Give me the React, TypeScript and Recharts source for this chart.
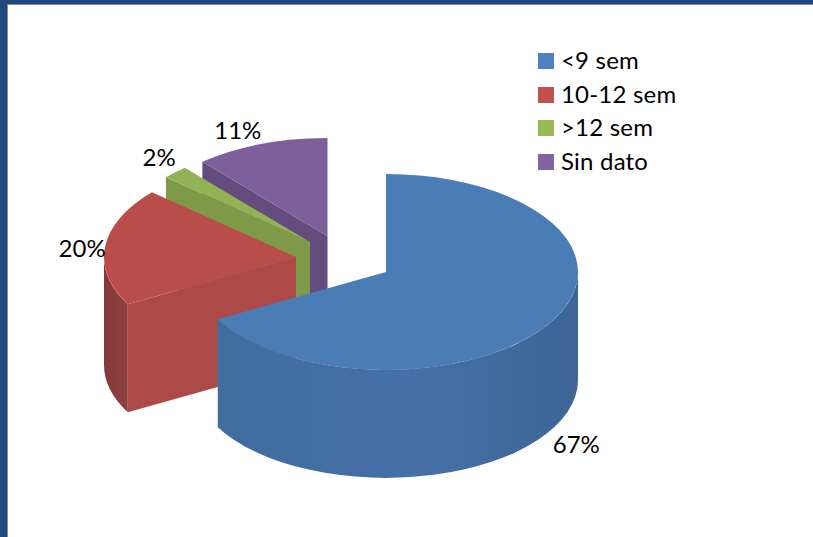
import { PieChart, Pie, Legend } from 'recharts';

const categories = ['<9 sem', '10-12 sem', '>12 sem', 'Sin dato'];
const values = [67, 19.5, 2.2, 11.3];

// colores: leyenda, cara superior, pared curva (izq/centro/der), pared del corte
const legendColors = ['#4F81BD', '#C0504D', '#9BBB59', '#8064A2'];
const topColors = ['#4A7CB6', '#B84D4A', '#93B155', '#7C5F9B'];
const wallColors = [
  ['#416C9E', '#4670A6', '#3E6596'],
  ['#843735', '#8B3F3C', '#8B3F3C'],
  ['#7E9947', '#7E9947', '#7E9947'],
  ['#644C7F', '#644C7F', '#644C7F'],
];
const cutColors = ['#446FA3', '#AC4A47', '#7E9947', '#644C7F'];

// desplazamiento de cada porcion y ajuste de su etiqueta
const explode = [[0, 0], [-90, -15], [-76, -30], [-58.5, -36]];
const labelNudge = [[25, 122], [-23, 1], [-16, -16], [-23, -15]];

const WIDTH = 813;
const HEIGHT = 537;
const CX = 386;
const CY = 272;
const RADIUS = 192;
const TILT = 0.51;
const DEPTH = 108;
const FONT = 'Lato, sans-serif';
const rad = Math.PI / 180;

// la tabla va al reves para dibujar de atras hacia adelante (azul al final)
const tableData = categories
  .map((name, i) => ({ name, value: values[i], index: i, fill: topColors[i] }))
  .reverse();

// a: grados en sentido horario desde las 12
function point(a: number, ox: number, oy: number, dy = 0) {
  return {
    x: CX + ox + RADIUS * Math.sin(a * rad),
    y: CY + oy + dy - RADIUS * TILT * Math.cos(a * rad),
  };
}

function arc(a0: number, a1: number, ox: number, oy: number, dy = 0, reverse = false) {
  const p = point(reverse ? a0 : a1, ox, oy, dy);
  const large = Math.abs(a1 - a0) > 180 ? 1 : 0;
  return `A${RADIUS} ${RADIUS * TILT} 0 ${large} ${reverse ? 0 : 1} ${p.x} ${p.y}`;
}

function Slice3D(props: any) {
  const { startAngle, endAngle, payload } = props;
  const i = payload.index;
  const [ox, oy] = explode[i];
  const a0 = 90 - endAngle;
  const a1 = 90 - startAngle;
  const apex = { x: CX + ox, y: CY + oy };
  const s = point(a0, ox, oy);
  const wallFrom = Math.max(a0, -270);
  const wallTo = Math.min(a1, -90);
  const hasWall = wallTo > wallFrom;
  const gradId = `wall-${i}`;

  let wallPath = '';
  if (hasWall) {
    const w0 = point(wallFrom, ox, oy);
    const w1b = point(wallTo, ox, oy, DEPTH);
    wallPath =
      `M${w0.x} ${w0.y}` +
      arc(wallFrom, wallTo, ox, oy) +
      `L${w1b.x} ${w1b.y}` +
      arc(wallFrom, wallTo, ox, oy, DEPTH, true) +
      'Z';
  }

  return (
    <g>
      <defs>
        <linearGradient id={gradId} x1="0" y1="0" x2="1" y2="0">
          <stop offset="0%" stopColor={wallColors[i][0]} />
          <stop offset="55%" stopColor={wallColors[i][1]} />
          <stop offset="100%" stopColor={wallColors[i][2]} />
        </linearGradient>
      </defs>
      <path
        d={`M${apex.x} ${apex.y}L${s.x} ${s.y}L${s.x} ${s.y + DEPTH}L${apex.x} ${apex.y + DEPTH}Z`}
        fill={cutColors[i]}
      />
      {hasWall && <path d={wallPath} fill={`url(#${gradId})`} />}
      <path d={`M${apex.x} ${apex.y}L${s.x} ${s.y}${arc(a0, a1, ox, oy)}Z`} fill={topColors[i]} />
    </g>
  );
}

function sliceLabel(props: any) {
  const { midAngle, payload } = props;
  const i = payload.index;
  const p = point(90 - midAngle, explode[i][0], explode[i][1]);
  return (
    <text
      x={p.x + labelNudge[i][0]}
      y={p.y + labelNudge[i][1]}
      textAnchor="middle"
      dominantBaseline="central"
      fontFamily={FONT}
      fontSize={24}
      fill="#000"
    >
      {`${Math.round(payload.value)}%`}
    </text>
  );
}

function LegendBox() {
  return (
    <div style={{ fontFamily: FONT, fontSize: 24, color: '#000' }}>
      {categories.map((name, i) => (
        <div key={name} style={{ display: 'flex', alignItems: 'center', height: 33.7 }}>
          <span style={{ width: 16, height: 16, background: legendColors[i], marginRight: 7 }} />
          <span style={{ lineHeight: '33.7px', whiteSpace: 'nowrap', letterSpacing: 0.2, position: 'relative', top: -1 }}>{name}</span>
        </div>
      ))}
    </div>
  );
}

export default function App() {
  return (
    <div style={{ position: 'absolute', left: 0, top: 0, width: WIDTH, height: HEIGHT, background: '#fff', overflow: 'hidden' }}>
      <PieChart width={WIDTH} height={HEIGHT} margin={{ top: 0, right: 0, bottom: 0, left: 0 }}>
        <Pie
          data={tableData}
          dataKey="value"
          nameKey="name"
          cx={CX}
          cy={CY}
          outerRadius={RADIUS}
          startAngle={90}
          endAngle={450}
          stroke="none"
          shape={Slice3D}
          label={sliceLabel}
          labelLine={false}
          isAnimationActive={false}
        />
        <Legend
          content={<LegendBox />}
          layout="vertical"
          wrapperStyle={{ position: 'absolute', left: 538, top: 44, width: 170, bottom: 'auto' }}
        />
      </PieChart>
      <div style={{ position: 'absolute', left: 7, top: 4, width: WIDTH - 7, height: 1, background: '#8C8C8C' }} />
      <div style={{ position: 'absolute', left: 7, top: 4, width: 1, height: HEIGHT - 4, background: '#8C8C8C' }} />
      <div style={{ position: 'absolute', left: 0, top: 0, width: WIDTH, height: 4, background: '#1F497D' }} />
      <div style={{ position: 'absolute', left: 0, top: 0, width: 7, height: HEIGHT, background: '#1F497D' }} />
    </div>
  );
}
